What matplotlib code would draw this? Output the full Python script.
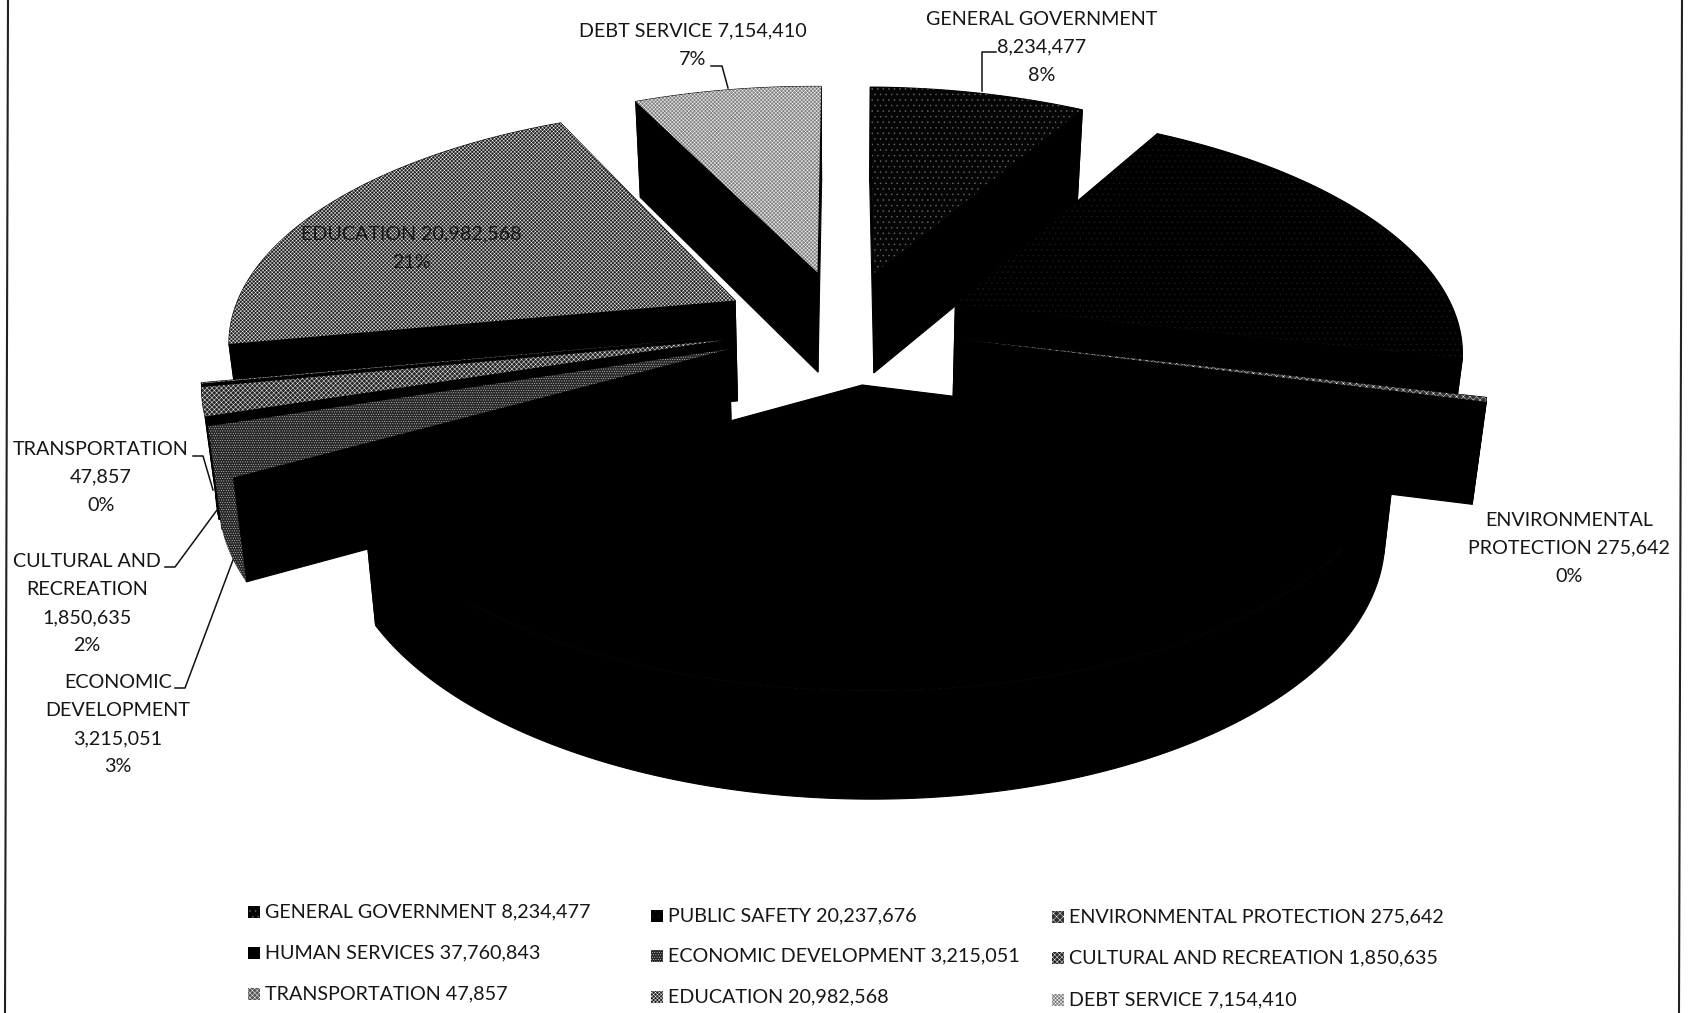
import numpy as np
import matplotlib
matplotlib.use("Agg")
import matplotlib.pyplot as plt
from matplotlib.patches import Polygon, Rectangle

plt.rcParams["font.family"] = ["Lato", "DejaVu Sans"]
plt.rcParams["hatch.linewidth"] = 0.32

categories = [
    "GENERAL GOVERNMENT", "PUBLIC SAFETY", "ENVIRONMENTAL PROTECTION",
    "HUMAN SERVICES", "ECONOMIC DEVELOPMENT", "CULTURAL AND RECREATION",
    "TRANSPORTATION", "EDUCATION", "DEBT SERVICE",
]
amounts = [8234477, 20237676, 275642, 37760843, 3215051, 1850635, 47857, 20982568, 7154410]

# top face fill, hatch colour, hatch
face_styles = [
    ("#050505", "#6a6a6a", "..."),
    ("#000000", "#1c1c1c", "..."),
    ("#333333", "#ffffff", "xxxxx"),
    ("#000000", "#000000", ""),
    ("#262626", "#d8d8d8", "......."),
    ("#262626", "#ffffff", "xxxxxxx"),
    ("#555555", "#ffffff", "xxxxxxx"),
    ("#1e1e1e", "#ffffff", "xxxxxxxxx"),
    ("#808080", "#ffffff", "xxxxxxxxx"),
]

# far slices first so the nearer ones paint over them
draw_order = [8, 0, 7, 1, 6, 5, 4, 2, 3]

# pie projection, in pixels
CX, CY = 844.0, 326.0
RX, RY = 505.0, 233.0
PERSPECTIVE = 0.166
DEPTH = 101.0
DEPTH_SHRINK = 0.022
EXPLODE = 0.245
LEAN = 0.006  # the page sits slightly rotated


def project(x, y, z=0.0):
    s = 1.0 / (1.0 + PERSPECTIVE * y)
    sx = CX + RX * x * s * (1.0 - DEPTH_SHRINK * z)
    sy = CY - RY * y * s + DEPTH * z * s ** 0.3 + LEAN * RX * x * s
    return np.column_stack([sx, sy])


def draw_slice(ax, start, stop, style, textured_wall=False):
    mid = (start + stop) / 2
    ox, oy = EXPLODE * np.sin(mid), EXPLODE * np.cos(mid)
    t = np.linspace(start, stop, max(3, int(np.degrees(stop - start)) * 2))
    arc_x, arc_y = ox + np.sin(t), oy + np.cos(t)
    apex_x, apex_y = np.array([ox]), np.array([oy])

    apex_top = project(apex_x, apex_y)
    apex_low = project(apex_x, apex_y, 1.0)
    arc_top = project(arc_x, arc_y)
    arc_low = project(arc_x, arc_y, 1.0)

    for arc_t, arc_l in [(arc_top[:1], arc_low[:1]), (arc_top[-1:], arc_low[-1:])]:
        wall = np.vstack([apex_top, arc_t, arc_l, apex_low])
        ax.add_patch(Polygon(wall, closed=True, fc="black", ec="black", lw=0.8))

    face, hatch_color, hatch = style
    outer = np.vstack([arc_top, arc_low[::-1]])
    if textured_wall:
        ax.add_patch(Polygon(outer, closed=True, fc=face, ec=hatch_color, hatch=hatch, lw=0))
    else:
        ax.add_patch(Polygon(outer, closed=True, fc="black", ec="black", lw=0.8))

    top = np.vstack([apex_top, arc_top])
    ax.add_patch(Polygon(top, closed=True, fc=face, ec=hatch_color, hatch=hatch, lw=0))


fig = plt.figure(figsize=(16.93, 10.13), dpi=100)
ax = fig.add_axes([0, 0, 1, 1])
ax.set_xlim(0, 1693)
ax.set_ylim(1013, 0)
ax.axis("off")

# chart frame, only the two sides survive
ax.plot([8, 5], [0, 1013], color="#222222", lw=1.5)
ax.plot([1682, 1679], [0, 1013], color="#222222", lw=1.5)

edges = 2 * np.pi * np.concatenate([[0], np.cumsum(amounts)]) / sum(amounts)
for i in draw_order:
    draw_slice(ax, edges[i], edges[i + 1], face_styles[i], textured_wall=(i == 4))


def money(i):
    return f"{amounts[i]:,}"


def pct(i):
    return f"{round(100 * amounts[i] / sum(amounts))}%"


# data labels: category index, lines of text, centre x, first line y
LINE = 28.2
data_labels = [
    (8, ["DEBT SERVICE " + money(8), pct(8)], 693, 31),
    (0, ["GENERAL GOVERNMENT", money(0), pct(0)], 1042, 19),
    (7, ["EDUCATION " + money(7), pct(7)], 411, 234),
    (6, ["TRANSPORTATION", money(6), pct(6)], 101, 449),
    (5, ["CULTURAL AND", "RECREATION", money(5), pct(5)], 87, 561),
    (4, ["ECONOMIC", "DEVELOPMENT", money(4), pct(4)], 118, 682),
    (2, ["ENVIRONMENTAL", "PROTECTION " + money(2), pct(2)], 1569, 520),
]
for i, lines, lx, ly in data_labels:
    for n, line in enumerate(lines):
        ax.text(lx, ly + n * LINE, line, ha="center", va="center",
                fontsize=14.25, color="#161616")

# leader lines
leaders = [
    ([711, 722, 728], [66, 66, 88]),
    ([996, 982, 982], [52, 52, 91]),
    ([193, 203, 213], [456, 456, 490]),
    ([165, 175, 217], [567, 567, 510]),
    ([175, 185, 233], [688, 688, 560]),
]
for xs, ys in leaders:
    ax.plot(xs, ys, color="#111111", lw=1.1)

# legend, three columns, rows drift down to the right with the page
legend_x = [248, 651, 1052]
legend_y = [
    [912, 953, 994],
    [916, 956, 997],
    [917, 958, 1000],
]
for i, name in enumerate(categories):
    row, col = i // 3, i % 3
    lx, ly = legend_x[col], legend_y[col][row]
    face, hatch_color, hatch = face_styles[i]
    ax.add_patch(Rectangle((lx, ly - 6), 12, 12, fc=face, ec=hatch_color, hatch=hatch, lw=0))
    ax.text(lx + 17, ly, f"{name} {money(i)}", ha="left", va="center",
            fontsize=14.25, color="#161616")

fig.savefig("out.png", dpi=100)
